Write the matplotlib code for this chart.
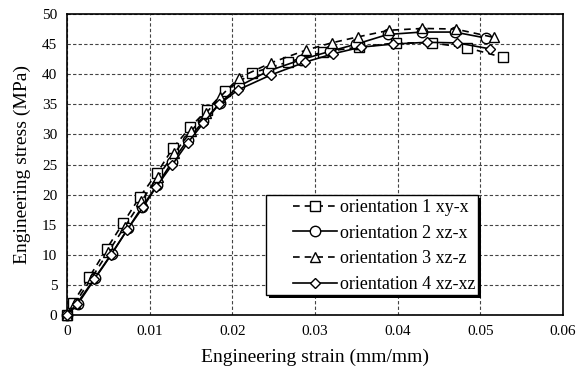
import matplotlib
matplotlib.use("Agg")
import matplotlib.pyplot as plt
from matplotlib.patches import Rectangle

plt.rcParams['font.family'] = ['Liberation Serif', 'DejaVu Serif']

# orientation 1 xy-x (squares, dashed)
x1 = [0, 0.0007, 0.0027, 0.0048, 0.0068, 0.0088, 0.0109, 0.0128, 0.0149, 0.0169,
      0.0191, 0.0224, 0.0267, 0.0310, 0.0353, 0.0398, 0.0441, 0.0484, 0.0527]
y1 = [0, 2.0, 6.3, 11.0, 15.3, 19.6, 23.6, 27.7, 31.2, 34.0,
      37.2, 40.2, 42.0, 43.7, 44.5, 45.2, 45.2, 44.4, 42.8]

# orientation 2 xz-x (circles, solid)
x2 = [0, 0.0013, 0.0034, 0.0054, 0.0074, 0.0091, 0.0109, 0.0127, 0.0146, 0.0165,
      0.0185, 0.0208, 0.0243, 0.0283, 0.0318, 0.0350, 0.0388, 0.0429, 0.0469, 0.0507]
y2 = [0, 1.8, 6.1, 10.1, 14.4, 18.0, 21.6, 25.4, 29.1, 32.2,
      35.2, 38.0, 40.5, 42.4, 43.8, 45.0, 46.6, 47.0, 47.0, 46.0]

# orientation 3 xz-z (triangles, dashed)
x3 = [0, 0.0010, 0.0030, 0.0050, 0.0070, 0.0090, 0.0110, 0.0130, 0.0150, 0.0168,
      0.0185, 0.0208, 0.0247, 0.0289, 0.0320, 0.0352, 0.0390, 0.0430, 0.0470, 0.0517]
y3 = [0, 2.0, 6.2, 10.5, 14.7, 18.9, 23.0, 26.9, 30.5, 33.5,
      36.2, 39.4, 41.9, 44.0, 45.2, 46.2, 47.3, 47.6, 47.5, 46.1]

# orientation 4 xz-xz (diamonds, solid)
x4 = [0, 0.0012, 0.0033, 0.0053, 0.0073, 0.0092, 0.0108, 0.0127, 0.0146, 0.0165,
      0.0184, 0.0207, 0.0247, 0.0288, 0.0322, 0.0356, 0.0394, 0.0435, 0.0472, 0.0512]
y4 = [0, 1.9, 6.0, 10.0, 14.2, 17.9, 21.3, 24.9, 28.6, 31.9,
      35.0, 37.4, 39.9, 42.0, 43.4, 44.5, 45.0, 45.3, 45.2, 44.2]

labels = ['orientation 1 xy-x', 'orientation 2 xz-x', 'orientation 3 xz-z', 'orientation 4 xz-xz']
xticks = [0, 0.01, 0.02, 0.03, 0.04, 0.05, 0.06]
xticklabels = ['0', '0.01', '0.02', '0.03', '0.04', '0.05', '0.06']
yticks = [0, 5, 10, 15, 20, 25, 30, 35, 40, 45, 50]

fig = plt.figure(figsize=(5.78, 3.78), dpi=100)
ax = fig.add_axes([67/578, 1-315/378, (563-67)/578, (315-14)/378])

series = [(x1, y1, 's', (0, (4, 3)), 7),
          (x2, y2, 'o', '-', 7.5),
          (x3, y3, '^', (0, (4, 3)), 7.5),
          (x4, y4, 'D', '-', 5)]
for (xs, ys, m, ls, ms), lab in zip(series, labels):
    ax.plot(xs, ys, marker=m, linestyle=ls, color='black', linewidth=1.2,
            markersize=ms, markerfacecolor='white', markeredgecolor='black',
            markeredgewidth=1.0, label=lab, clip_on=False, zorder=3)

ax.set_xlim(0, 0.06)
ax.set_ylim(0, 50)
ax.set_xticks(xticks)
ax.set_xticklabels(xticklabels)
ax.set_yticks(yticks)
ax.tick_params(axis='both', labelsize=11, length=0, pad=7)
ax.grid(True, color='#444444', linestyle=(0, (3, 2)), linewidth=0.8)
ax.set_axisbelow(True)
for s in ax.spines.values():
    s.set_linewidth(1.2)
    s.set_color('black')

ax.set_xlabel('Engineering strain (mm/mm)', fontsize=14, labelpad=8)
ax.set_ylabel('Engineering stress (MPa)', fontsize=14, labelpad=8)

# legend box with shadow
bx, by, bw, bh = 0.401, 0.066, 0.427, 0.332
shadow = Rectangle((bx + 3/496, by - 3/301), bw, bh, transform=ax.transAxes,
                   facecolor='black', edgecolor='none', zorder=4.9)
box = Rectangle((bx, by), bw, bh, transform=ax.transAxes,
                facecolor='white', edgecolor='black', linewidth=1.0, zorder=5)
ax.add_patch(shadow)
ax.add_patch(box)

leg = ax.legend(loc='upper left', bbox_to_anchor=(0.4556, 0.385), fontsize=13,
                frameon=False, handlelength=2.44, handletextpad=0.17,
                labelspacing=0.48, borderpad=0.0, borderaxespad=0)
leg.set_zorder(6)

fig.savefig('out.png', dpi=100)
